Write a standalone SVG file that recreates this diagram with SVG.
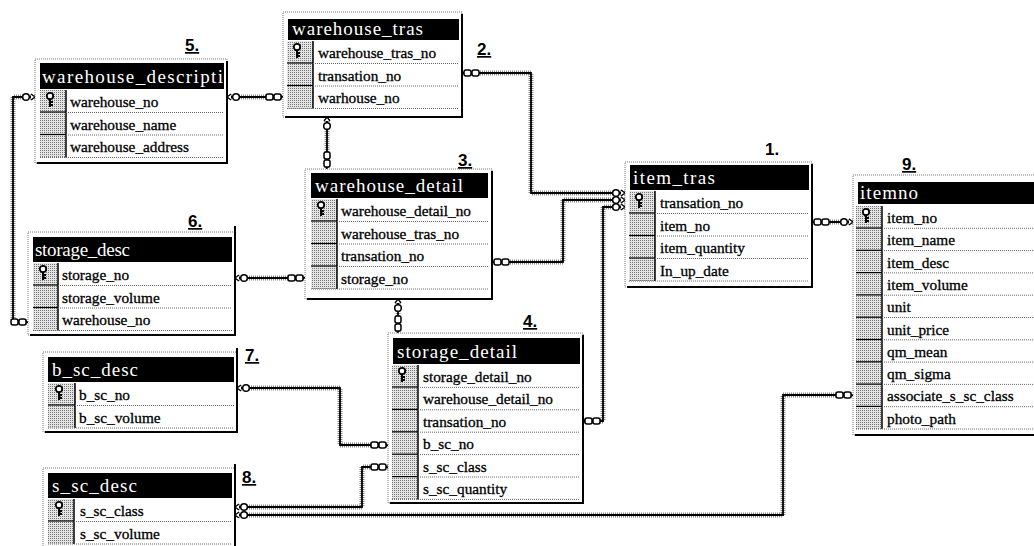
<svg xmlns="http://www.w3.org/2000/svg" width="1034" height="546" viewBox="0 0 1034 546">
<style>
.box{fill:#fff;stroke:#777;stroke-width:1;stroke-dasharray:1 1}
.shadow{fill:none;stroke:#000;stroke-width:2}
.hdr{fill:#000}
.ht{font-family:"Liberation Serif",serif;font-size:19px;fill:#fff}
.rt{font-family:"Liberation Serif",serif;font-size:15.3px;fill:#000;stroke:#000;stroke-width:0.3}
.icol{fill:url(#stip)}
.vsep{stroke:#000;stroke-width:1.5}
.rsep{stroke:#666;stroke-width:1;stroke-dasharray:1 1}
.isep{stroke:#000;stroke-width:1.2}
.lbl{font-family:"Liberation Sans",Arial,sans-serif;font-size:17px;font-weight:bold;fill:#000;text-decoration:underline}
.halo{fill:none;stroke:#888;stroke-width:5;stroke-dasharray:1 1}
.ln{fill:none;stroke:#000;stroke-width:1.8;marker-start:url(#key);marker-end:url(#chain)}
</style>
<defs>
<pattern id="stip" width="2" height="2" patternUnits="userSpaceOnUse">
<rect width="2" height="2" fill="#e4e4e4"/>
<rect x="0" y="0" width="1" height="1" fill="#777"/>
</pattern>
<marker id="key" markerUnits="userSpaceOnUse" viewBox="-20 -7 22 14" markerWidth="22" markerHeight="14" refX="0" refY="0" orient="auto-start-reverse" overflow="visible">
<circle cx="-9" cy="0" r="3.3" fill="#fff" stroke="#000" stroke-width="1.5"/>
<path d="M-5.5,0 H-1" stroke="#000" stroke-width="1.5"/>
<path d="M-4,-3 L0,0 L-4,3" fill="#fff" stroke="#000" stroke-width="1.3"/>
</marker>
<marker id="chain" markerUnits="userSpaceOnUse" viewBox="-20 -7 22 14" markerWidth="22" markerHeight="14" refX="0" refY="0" orient="auto-start-reverse" overflow="visible">
<rect x="-17" y="-3" width="7" height="6" rx="2" fill="#fff" stroke="#000" stroke-width="1.5"/>
<rect x="-9" y="-3" width="7" height="6" rx="2" fill="#fff" stroke="#000" stroke-width="1.5"/>
</marker>
<symbol id="pk" viewBox="0 0 12 16" overflow="visible">
<circle cx="6" cy="4" r="3.2" fill="#fff" stroke="#000" stroke-width="1.8"/>
<path d="M6,7 V15 M6,10 H9 M6,13 H9" stroke="#000" stroke-width="2" fill="none"/>
</symbol>
</defs>
<rect width="1034" height="546" fill="#fff"/>

<g id="connectors">
<g><path class="halo" d="M227,97 H283"/><path class="ln" d="M227,97 H283"/></g>
<g><path class="halo" d="M35,97 H13 V322 H28"/><path class="ln" d="M35,97 H13 V322 H28"/></g>
<g><path class="halo" d="M327,117 V169"/><path class="ln" d="M327,117 V169"/></g>
<g><path class="halo" d="M625,193 H531 V73 H462"/><path class="ln" d="M625,193 H531 V73 H462"/></g>
<g><path class="halo" d="M625,200 H563 V262 H492"/><path class="ln" d="M625,200 H563 V262 H492"/></g>
<g><path class="halo" d="M625,207 H603 V421 H583"/><path class="ln" d="M625,207 H603 V421 H583"/></g>
<g><path class="halo" d="M235,278 H305"/><path class="ln" d="M235,278 H305"/></g>
<g><path class="halo" d="M398,299 V333"/><path class="ln" d="M398,299 V333"/></g>
<g><path class="halo" d="M237,388 H340 V445 H388"/><path class="ln" d="M237,388 H340 V445 H388"/></g>
<g><path class="halo" d="M235,507 H362 V467 H388"/><path class="ln" d="M235,507 H362 V467 H388"/></g>
<g><path class="halo" d="M235,515 H783 V395 H853"/><path class="ln" d="M235,515 H783 V395 H853"/></g>
<g><path class="halo" d="M853,222 H812"/><path class="ln" d="M853,222 H812"/></g>
</g>

<!-- 5 warehouse_descripti -->
<g id="warehouse_description">
<rect class="box" x="35" y="59" width="192" height="104"/>
<path class="shadow" d="M227,61 V163 H37"/>
<rect class="hdr" x="40" y="63" width="184" height="26"/>
<text class="ht" x="42" y="83" textLength="181" lengthAdjust="spacing">warehouse_descripti</text>
<rect class="icol" x="40" y="90" width="26" height="67.5"/>
<line class="vsep" x1="66" y1="90" x2="66" y2="157.5"/>
<line class="rsep" x1="66" y1="112.5" x2="224" y2="112.5"/><line class="rsep" x1="66" y1="135" x2="224" y2="135"/><line class="rsep" x1="40" y1="157.5" x2="224" y2="157.5"/>
<line class="isep" x1="40" y1="112" x2="66" y2="112"/><line class="isep" x1="40" y1="134.5" x2="66" y2="134.5"/>
<use href="#pk" x="44" y="92" width="12" height="16"/>
<text class="rt" x="70" y="107">warehouse_no</text>
<text class="rt" x="70" y="129.5">warehouse_name</text>
<text class="rt" x="70" y="152">warehouse_address</text>
</g>

<!-- 2 warehouse_tras -->
<g id="warehouse_tras">
<rect class="box" x="283" y="12" width="179" height="105"/>
<path class="shadow" d="M462,14 V117 H285"/>
<rect class="hdr" x="288" y="19" width="171" height="21"/>
<text class="ht" x="292" y="35" textLength="131" lengthAdjust="spacing">warehouse_tras</text>
<rect class="icol" x="287" y="41" width="26" height="67.5"/>
<line class="vsep" x1="313" y1="41" x2="313" y2="108.5"/>
<line class="rsep" x1="313" y1="63.5" x2="459" y2="63.5"/><line class="rsep" x1="313" y1="86" x2="459" y2="86"/><line class="rsep" x1="287" y1="108.5" x2="459" y2="108.5"/>
<line class="isep" x1="287" y1="63" x2="313" y2="63"/><line class="isep" x1="287" y1="85.5" x2="313" y2="85.5"/>
<use href="#pk" x="291" y="43" width="12" height="16"/>
<text class="rt" x="318" y="58">warehouse_tras_no</text>
<text class="rt" x="318" y="80.5">transation_no</text>
<text class="rt" x="318" y="103">warhouse_no</text>
</g>

<!-- 3 warehouse_detail -->
<g id="warehouse_detail">
<rect class="box" x="305" y="169" width="187" height="130"/>
<path class="shadow" d="M492,171 V299 H307"/>
<rect class="hdr" x="311" y="173" width="177" height="25"/>
<text class="ht" x="315" y="192" textLength="148" lengthAdjust="spacing">warehouse_detail</text>
<rect class="icol" x="311" y="199" width="26" height="90"/>
<line class="vsep" x1="337" y1="199" x2="337" y2="289"/>
<line class="rsep" x1="337" y1="221.5" x2="488" y2="221.5"/><line class="rsep" x1="337" y1="244" x2="488" y2="244"/><line class="rsep" x1="337" y1="266.5" x2="488" y2="266.5"/><line class="rsep" x1="311" y1="289" x2="488" y2="289"/>
<line class="isep" x1="311" y1="221" x2="337" y2="221"/><line class="isep" x1="311" y1="243.5" x2="337" y2="243.5"/><line class="isep" x1="311" y1="266" x2="337" y2="266"/>
<use href="#pk" x="315" y="201" width="12" height="16"/>
<text class="rt" x="341" y="216">warehouse_detail_no</text>
<text class="rt" x="341" y="238.5">warehouse_tras_no</text>
<text class="rt" x="341" y="261">transation_no</text>
<text class="rt" x="341" y="283.5">storage_no</text>
</g>

<!-- 6 storage_desc -->
<g id="storage_desc">
<rect class="box" x="28" y="232" width="207" height="103"/>
<path class="shadow" d="M235,226 V335 H30"/>
<rect class="hdr" x="33" y="237" width="199" height="25"/>
<text class="ht" x="35" y="256" textLength="95" lengthAdjust="spacing">storage_desc</text>
<rect class="icol" x="33" y="263" width="25" height="67.5"/>
<line class="vsep" x1="58" y1="263" x2="58" y2="330.5"/>
<line class="rsep" x1="58" y1="285.5" x2="232" y2="285.5"/><line class="rsep" x1="58" y1="308" x2="232" y2="308"/><line class="rsep" x1="33" y1="330.5" x2="232" y2="330.5"/>
<line class="isep" x1="33" y1="285" x2="58" y2="285"/><line class="isep" x1="33" y1="307.5" x2="58" y2="307.5"/>
<use href="#pk" x="37" y="265" width="12" height="16"/>
<text class="rt" x="62" y="280">storage_no</text>
<text class="rt" x="62" y="302.5">storage_volume</text>
<text class="rt" x="62" y="325">warehouse_no</text>
</g>

<!-- 7 b_sc_desc -->
<g id="b_sc_desc">
<rect class="box" x="43" y="352" width="194" height="80"/>
<path class="shadow" d="M237,348 V432 H45"/>
<rect class="hdr" x="48" y="357" width="186" height="25"/>
<text class="ht" x="52" y="376" textLength="86" lengthAdjust="spacing">b_sc_desc</text>
<rect class="icol" x="48" y="383" width="27" height="45"/>
<line class="vsep" x1="75" y1="383" x2="75" y2="428"/>
<line class="rsep" x1="75" y1="405.5" x2="234" y2="405.5"/><line class="rsep" x1="48" y1="428" x2="234" y2="428"/>
<line class="isep" x1="48" y1="405" x2="75" y2="405"/>
<use href="#pk" x="53" y="385" width="12" height="16"/>
<text class="rt" x="79" y="400">b_sc_no</text>
<text class="rt" x="79" y="422.5">b_sc_volume</text>
</g>

<!-- 8 s_sc_desc -->
<g id="s_sc_desc">
<rect class="box" x="43" y="468" width="192" height="82"/>
<path class="shadow" d="M235,464 V550"/>
<rect class="hdr" x="48" y="473" width="184" height="25"/>
<text class="ht" x="52" y="492" textLength="85" lengthAdjust="spacing">s_sc_desc</text>
<rect class="icol" x="48" y="499" width="26" height="45"/>
<line class="vsep" x1="74" y1="499" x2="74" y2="544"/>
<line class="rsep" x1="74" y1="521.5" x2="232" y2="521.5"/><line class="rsep" x1="48" y1="544" x2="232" y2="544"/>
<line class="isep" x1="48" y1="521" x2="74" y2="521"/>
<use href="#pk" x="53" y="501" width="12" height="16"/>
<text class="rt" x="80" y="516">s_sc_class</text>
<text class="rt" x="80" y="538.5">s_sc_volume</text>
</g>

<!-- 4 storage_detail -->
<g id="storage_detail">
<rect class="box" x="388" y="333" width="195" height="170"/>
<path class="shadow" d="M583,335 V503 H390"/>
<rect class="hdr" x="393" y="338" width="187" height="26"/>
<text class="ht" x="397" y="358" textLength="120" lengthAdjust="spacing">storage_detail</text>
<rect class="icol" x="392" y="365" width="26" height="134.4"/>
<line class="vsep" x1="418" y1="365" x2="418" y2="499.4"/>
<line class="rsep" x1="418" y1="387.4" x2="580" y2="387.4"/><line class="rsep" x1="418" y1="409.8" x2="580" y2="409.8"/><line class="rsep" x1="418" y1="432.2" x2="580" y2="432.2"/><line class="rsep" x1="418" y1="454.6" x2="580" y2="454.6"/><line class="rsep" x1="418" y1="477" x2="580" y2="477"/><line class="rsep" x1="392" y1="499.4" x2="580" y2="499.4"/>
<line class="isep" x1="392" y1="387" x2="418" y2="387"/><line class="isep" x1="392" y1="409.4" x2="418" y2="409.4"/><line class="isep" x1="392" y1="431.8" x2="418" y2="431.8"/><line class="isep" x1="392" y1="454.2" x2="418" y2="454.2"/><line class="isep" x1="392" y1="476.6" x2="418" y2="476.6"/>
<use href="#pk" x="396" y="367" width="12" height="16"/>
<text class="rt" x="423" y="382">storage_detail_no</text>
<text class="rt" x="423" y="404.4">warehouse_detail_no</text>
<text class="rt" x="423" y="426.8">transation_no</text>
<text class="rt" x="423" y="449.2">b_sc_no</text>
<text class="rt" x="423" y="471.6">s_sc_class</text>
<text class="rt" x="423" y="494">s_sc_quantity</text>
</g>

<!-- 1 item_tras -->
<g id="item_tras">
<rect class="box" x="625" y="162" width="187" height="125"/>
<path class="shadow" d="M812,164 V287 H627"/>
<rect class="hdr" x="630" y="165" width="179" height="25"/>
<text class="ht" x="633" y="184" textLength="82" lengthAdjust="spacing">item_tras</text>
<rect class="icol" x="629" y="191" width="26" height="90"/>
<line class="vsep" x1="655" y1="191" x2="655" y2="281"/>
<line class="rsep" x1="655" y1="213.5" x2="809" y2="213.5"/><line class="rsep" x1="655" y1="236" x2="809" y2="236"/><line class="rsep" x1="655" y1="258.5" x2="809" y2="258.5"/><line class="rsep" x1="629" y1="281" x2="809" y2="281"/>
<line class="isep" x1="629" y1="213" x2="655" y2="213"/><line class="isep" x1="629" y1="235.5" x2="655" y2="235.5"/><line class="isep" x1="629" y1="258" x2="655" y2="258"/>
<use href="#pk" x="633" y="193" width="12" height="16"/>
<text class="rt" x="660" y="208">transation_no</text>
<text class="rt" x="660" y="230.5">item_no</text>
<text class="rt" x="660" y="253">item_quantity</text>
<text class="rt" x="660" y="275.5">In_up_date</text>
</g>

<!-- 9 itemno -->
<g id="itemno">
<rect class="box" x="853" y="175" width="190" height="260"/>
<path class="shadow" d="M855,435 H1040"/>
<rect class="hdr" x="858" y="182" width="180" height="22"/>
<text class="ht" x="860" y="199" textLength="58" lengthAdjust="spacing">itemno</text>
<rect class="icol" x="856" y="206" width="26" height="223"/>
<line class="vsep" x1="882" y1="206" x2="882" y2="429"/>
<line class="rsep" x1="882" y1="228.3" x2="1034" y2="228.3"/><line class="rsep" x1="882" y1="250.6" x2="1034" y2="250.6"/><line class="rsep" x1="882" y1="272.9" x2="1034" y2="272.9"/><line class="rsep" x1="882" y1="295.2" x2="1034" y2="295.2"/><line class="rsep" x1="882" y1="317.5" x2="1034" y2="317.5"/><line class="rsep" x1="882" y1="339.8" x2="1034" y2="339.8"/><line class="rsep" x1="882" y1="362.1" x2="1034" y2="362.1"/><line class="rsep" x1="882" y1="384.4" x2="1034" y2="384.4"/><line class="rsep" x1="882" y1="406.7" x2="1034" y2="406.7"/><line class="rsep" x1="856" y1="429" x2="1034" y2="429"/>
<line class="isep" x1="856" y1="228" x2="882" y2="228"/><line class="isep" x1="856" y1="250.3" x2="882" y2="250.3"/><line class="isep" x1="856" y1="272.6" x2="882" y2="272.6"/><line class="isep" x1="856" y1="294.9" x2="882" y2="294.9"/><line class="isep" x1="856" y1="317.2" x2="882" y2="317.2"/><line class="isep" x1="856" y1="339.5" x2="882" y2="339.5"/><line class="isep" x1="856" y1="361.8" x2="882" y2="361.8"/><line class="isep" x1="856" y1="384.1" x2="882" y2="384.1"/><line class="isep" x1="856" y1="406.4" x2="882" y2="406.4"/>
<use href="#pk" x="860" y="208" width="12" height="16"/>
<text class="rt" x="887" y="223">item_no</text>
<text class="rt" x="887" y="245.3">item_name</text>
<text class="rt" x="887" y="267.6">item_desc</text>
<text class="rt" x="887" y="289.9">item_volume</text>
<text class="rt" x="887" y="312.2">unit</text>
<text class="rt" x="887" y="334.5">unit_price</text>
<text class="rt" x="887" y="356.8">qm_mean</text>
<text class="rt" x="887" y="379.1">qm_sigma</text>
<text class="rt" x="887" y="401.4">associate_s_sc_class</text>
<text class="rt" x="887" y="423.7">photo_path</text>
</g>

<g id="labels">
<text class="lbl" x="185" y="51">5.</text>
<text class="lbl" x="477" y="55">2.</text>
<text class="lbl" x="458" y="166">3.</text>
<text class="lbl" x="765" y="155" style="text-decoration:none">1.</text>
<text class="lbl" x="902" y="170">9.</text>
<text class="lbl" x="188" y="227">6.</text>
<text class="lbl" x="523" y="327">4.</text>
<text class="lbl" x="245" y="361">7.</text>
<text class="lbl" x="242" y="483">8.</text>
</g>
</svg>
